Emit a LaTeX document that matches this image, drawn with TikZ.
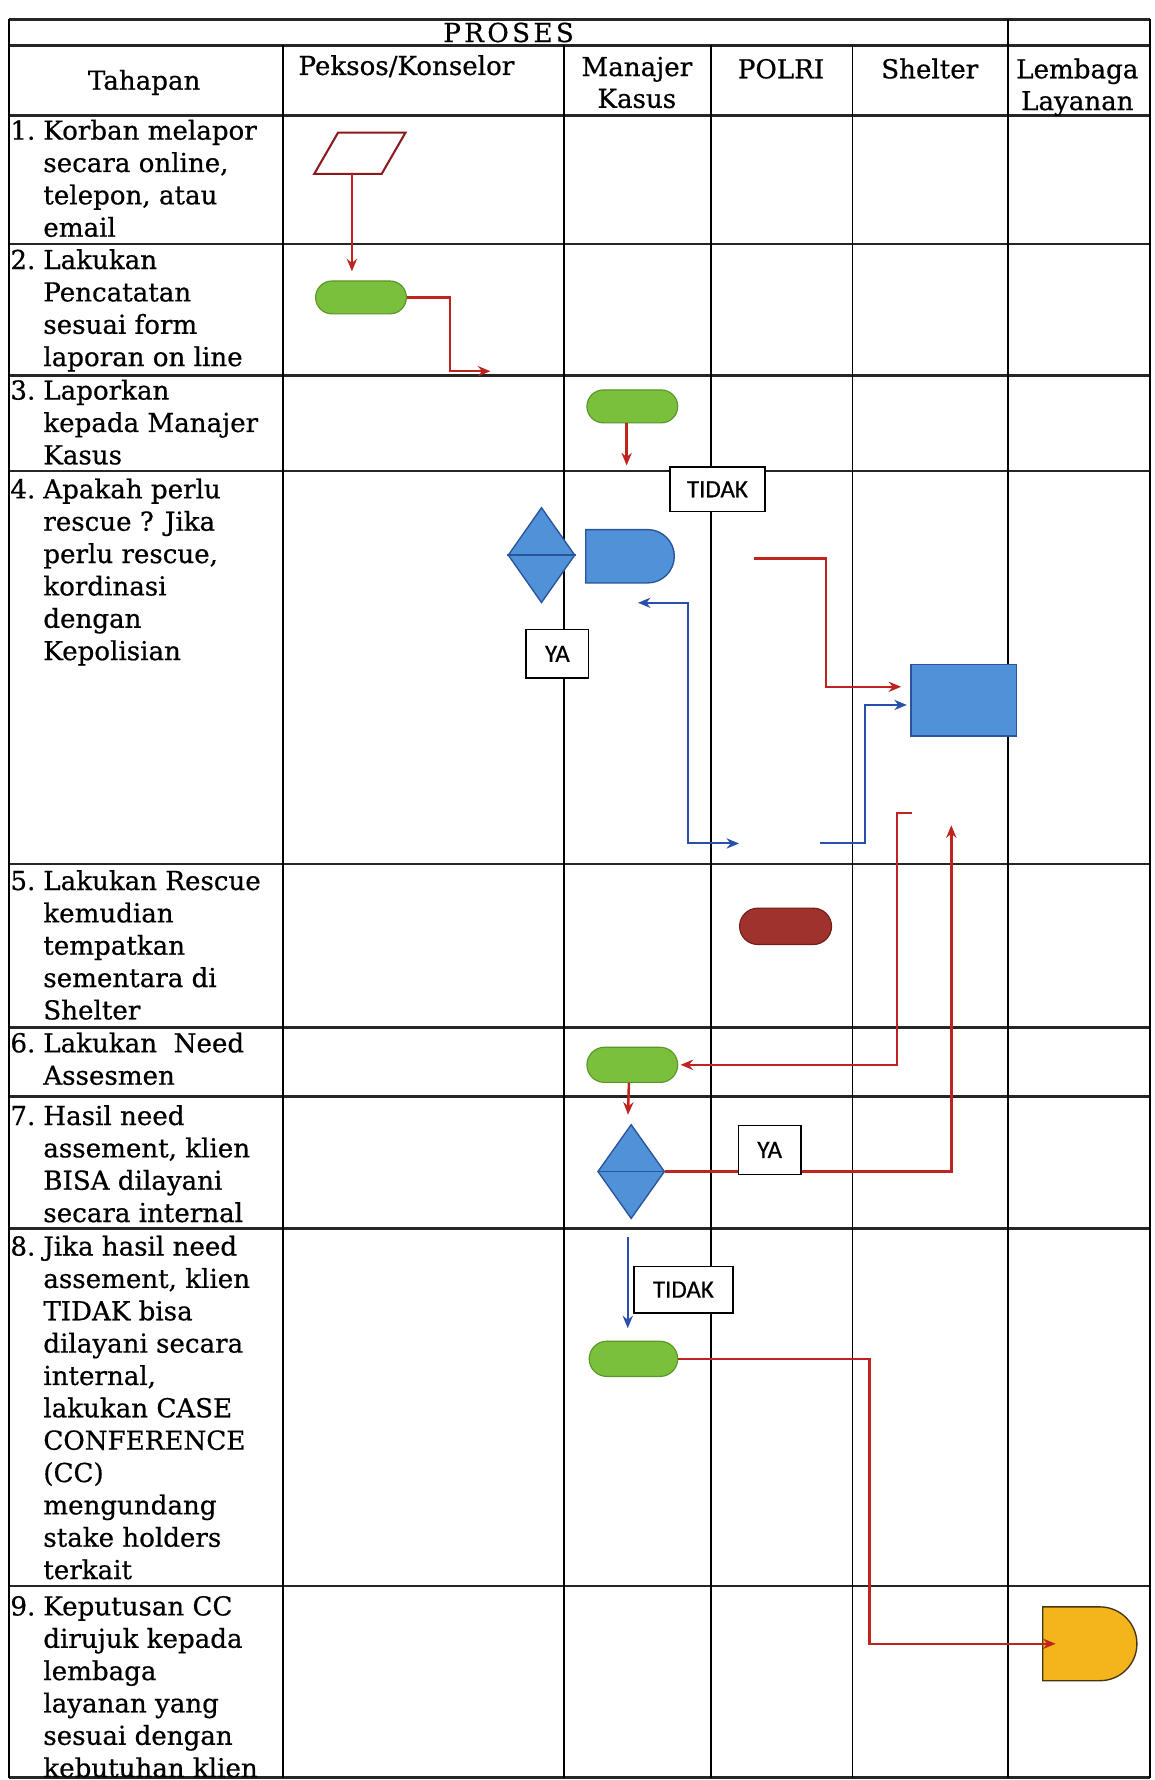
\documentclass[tikz,border=0pt]{standalone}
\usepackage{fontspec}
\setmainfont{DejaVu Serif}[FakeBold=0.6]
\newfontfamily\labelfont{Carlito}[FakeBold=0.5]
\usetikzlibrary{shapes.geometric,shapes.misc,arrows.meta,calc}
\definecolor{connred}{RGB}{190,35,30}
\definecolor{connblue}{RGB}{40,80,170}
\definecolor{pillgreen}{RGB}{122,192,60}
\definecolor{pillgreenD}{RGB}{90,150,40}
\definecolor{shapeblue}{RGB}{80,145,215}
\definecolor{shapeblueD}{RGB}{40,85,155}
\definecolor{polred}{RGB}{160,50,45}
\definecolor{polredD}{RGB}{115,30,25}
\definecolor{yel}{RGB}{244,180,28}
\definecolor{yelD}{RGB}{70,55,20}
\definecolor{paraD}{RGB}{140,25,30}
\newcommand{\rowfont}{\fontsize{23}{28.5}\selectfont}
\newcommand{\rowtext}[3]{\node[rowtxt] (#1) at (9,#2) {\begin{tabular}[t]{@{}p{29pt}@{}l@{}}#3\end{tabular}};}
\begin{document}
\begin{tikzpicture}[x=1pt,y=-1pt,
  gridv/.style={line width=1.6pt,black},
  gridh/.style={line width=2.4pt,black!85},
  rowtxt/.style={anchor=base west,inner sep=0pt,font=\rowfont},
  headtxt/.style={anchor=base,inner sep=0pt,font=\rowfont,align=center},
  rarr/.style={draw=connred,line width=2.2pt,-{Stealth[length=11pt,width=9pt]}},
  barr/.style={draw=connblue,line width=1.8pt,-{Stealth[length=11pt,width=9pt]}},
  pill/.style={rounded rectangle,draw=pillgreenD,fill=pillgreen,line width=1pt,minimum width=80pt,minimum height=29pt,inner sep=0pt},
  polpill/.style={rounded rectangle,draw=polredD,fill=polred,line width=1pt,minimum width=81pt,minimum height=32pt,inner sep=0pt},
  decision/.style={diamond,draw=shapeblueD,fill=shapeblue,line width=1.2pt,minimum width=59pt,minimum height=84pt,inner sep=0pt},
  delaybox/.style={rounded rectangle,rounded rectangle left arc=none,line width=1.2pt,inner sep=0pt},
  labelbox/.style={draw=black,fill=white,line width=1.4pt,inner sep=0pt,font=\labelfont\fontsize{22}{25}\selectfont},
  procbox/.style={draw=shapeblueD,fill=shapeblue,line width=1.4pt,minimum width=93pt,minimum height=63pt,inner sep=0pt},
  inframe/.style={inner sep=0pt,minimum width=80pt,minimum height=36pt},
  inshape/.style={draw=paraD,fill=white,line width=1.8pt}
]
\useasboundingbox (0,0) rectangle (1017,1568);
\fill[white] (0,0) rectangle (1017,1568);
% grid
\draw[gridh] (8,17) -- (1013,17);
\draw[gridh] (8,40) -- (1013,40);
\foreach \yy in {102,215,331,415,761,905,966,1082,1397,1566}
  \draw[gridh] (8,\yy) -- (1013,\yy);
\draw[gridv] (8,17) -- (8,1566);
\draw[gridv] (1013,17) -- (1013,1566);
\draw[gridv] (888,17) -- (888,1566);
\foreach \xx in {249,497,626,751}
  \draw[gridv] (\xx,40) -- (\xx,1566);
% header
\node[headtxt] (proses) at (448,37) {P\kern3pt R\kern3pt O\kern3pt S\kern3pt E\kern3pt S};
\node[headtxt] (htahap) at (127,79) {Tahapan};
\node[headtxt] (hpeksos) at (358,66) {Peksos/Konselor};
\node[headtxt] (hman1) at (561,67) {Manajer};
\node[headtxt] (hman2) at (561,95) {Kasus};
\node[headtxt] (hpolri) at (688,69) {POLRI};
\node[headtxt] (hshel) at (819,69) {Shelter};
\node[headtxt] (hlem1) at (949,69) {Lembaga};
\node[headtxt] (hlem2) at (949,97) {Layanan};
% row texts
\rowtext{t1}{123}{1. & Korban melapor\\ & secara online,\\ & telepon, atau\\ & email}
\rowtext{t2}{237}{2. & Lakukan\\ & Pencatatan\\ & sesuai form\\ & laporan on line}
\rowtext{t3}{352}{3. & Laporkan\\ & kepada Manajer\\ & Kasus}
\rowtext{t4}{439}{4. & Apakah perlu\\ & rescue ? Jika\\ & perlu rescue,\\ & kordinasi\\ & dengan\\ & Kepolisian}
\rowtext{t5}{784}{5. & Lakukan Rescue\\ & kemudian\\ & tempatkan\\ & sementara di\\ & Shelter}
\rowtext{t6}{927}{6. & Lakukan\ \ Need\\ & Assesmen}
\rowtext{t7}{991}{7. & Hasil need\\ & assement, klien\\ & BISA dilayani\\ & secara internal}
\rowtext{t8}{1106}{8. & Jika hasil need\\ & assement, klien\\ & TIDAK bisa\\ & dilayani secara\\ & internal,\\ & lakukan CASE\\ & CONFERENCE\\ & (CC)\\ & mengundang\\ & stake holders\\ & terkait}
\rowtext{t9}{1423}{9. & Keputusan CC\\ & dirujuk kepada\\ & lembaga\\ & layanan yang\\ & sesuai dengan\\ & kebutuhan klien}
% shapes
\node[inframe] (para) at (317,135) {};
\draw[inshape] ([xshift=21pt]para.north west) -- (para.north east) -- ([xshift=-21pt]para.south east) -- (para.south west) -- cycle;
\node[pill] (pill1) at (318,262) {};
\node[pill] (pill2) at (557,358) {};
\node[labelbox,minimum width=84pt,minimum height=39pt] (tidak1) at (632,431) {TIDAK};
\node[decision] (dec1) at (477,489) {};
\draw[shapeblueD,line width=1.2pt] (dec1.west) -- (dec1.east);
\node[delaybox,draw=shapeblueD,fill=shapeblue,minimum width=78pt,minimum height=47pt] (delay1) at (555,490) {};
\node[labelbox,minimum width=55pt,minimum height=43pt] (ya1) at (491,576) {YA};
\node[procbox] (sq) at (849,617) {};
\node[polpill] (pol) at (692,816) {};
\node[pill,minimum height=31pt] (pill4) at (557,938) {};
\node[decision,minimum height=83pt] (dec2) at (556,1032) {};
\draw[shapeblueD,line width=1.2pt] (dec2.west) -- (dec2.east);
\node[pill,minimum width=78pt,minimum height=31pt] (pill5) at (558,1197) {};
\node[labelbox,minimum width=87pt,minimum height=41pt] (tidak2) at (602,1136) {TIDAK};
\node[delaybox,draw=yelD,fill=yel,minimum width=83pt,minimum height=65pt] (yelbox) at (960,1448) {};
% free ends
\coordinate (c1) at (432,327);
\coordinate (c2) at (552,410);
\coordinate (c3) at (664,492);
\coordinate (c5) at (562,531);
\coordinate (c6) at (651,743);
\coordinate (c7) at (722,743);
\coordinate (c8) at (803,716);
\coordinate (c9) at (838,727);
\coordinate (c10) at (553,1090);
% connectors
\draw[rarr,shorten >=8pt] ([xshift=-7pt]para.south) -- ([xshift=-8pt]pill1.north);
\draw[rarr] (pill1.east) -- ++(38,0) |- (c1);
\draw[rarr] ([xshift=-5pt]pill2.south) -- (c2);
\draw[rarr,shorten >=8pt] (c3) -| ([xshift=-74pt,yshift=12pt]sq.west) -- ([yshift=12pt]sq.west);
\draw[barr,{Stealth[length=11pt,width=9pt]}-{Stealth[length=11pt,width=9pt]}] (c5) -| ++(44,212) -- (c6);
\draw[barr,shorten >=3pt] (c7) -| ([xshift=-40pt,yshift=-4pt]sq.west) -- ([yshift=-4pt]sq.west);
\draw[rarr,shorten >=2pt] (c8) -- ++(-13,0) |- (pill4.east);
\draw[rarr,shorten >=8pt] ([xshift=-3pt]pill4.south) -- ([xshift=-3pt]dec2.north);
\draw[rarr] (dec2.east) -| (c9);
\draw[barr,shorten >=11pt] (c10) -- ([xshift=-5pt]pill5.north);
\draw[rarr] (pill5.east) -| ([xshift=-152pt]yelbox.west) -- ([xshift=12pt]yelbox.west);
\node[labelbox,minimum width=55pt,minimum height=43pt] (ya2) at (678,1013) {YA};
\end{tikzpicture}
\end{document}
